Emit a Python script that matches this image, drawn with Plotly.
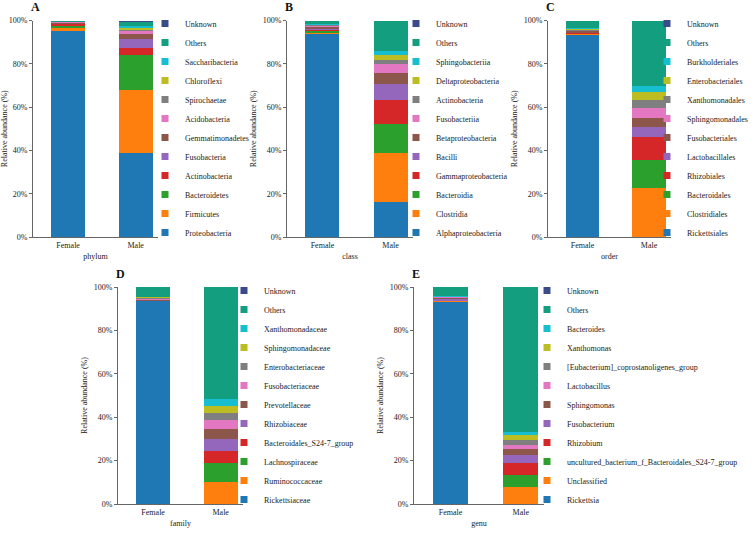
import plotly.graph_objects as go

groups = ["Female", "Male"]

phylum_names = ["Proteobacteria", "Firmicutes", "Bacteroidetes", "Actinobacteria", "Fusobacteria",
                "Gemmatimonadetes", "Acidobacteria", "Spirochaetae", "Chloroflexi", "Saccharibacteria",
                "Others", "Unknown"]
phylum_female = [95.7, 0.9, 1.0, 1.3, 0.1, 0.5, 0.1, 0.1, 0.05, 0.05, 0.2, 0.0]
phylum_male = [39.1, 28.9, 16.2, 3.3, 4.0, 2.3, 1.6, 0.8, 0.8, 0.6, 2.3, 0.1]

class_names = ["Alphaproteobacteria", "Clostridia", "Bacteroidia", "Gammaproteobacteria", "Bacilli",
               "Betaproteobacteria", "Fusobacteriia", "Actinobacteria", "Deltaproteobacteria",
               "Sphingobacteriia", "Others", "Unknown"]
class_female = [94.0, 0.4, 1.0, 0.8, 0.4, 0.8, 0.3, 0.5, 0.3, 0.2, 1.3, 0.0]
class_male = [16.2, 22.8, 13.3, 11.1, 7.6, 5.2, 3.9, 1.8, 2.2, 2.2, 13.7, 0.0]

order_names = ["Rickettsiales", "Clostridiales", "Bacteroidales", "Rhizobiales", "Lactobacillales",
               "Fusobacteriales", "Sphingomonadales", "Xanthomonadales", "Enterobacteriales",
               "Burkholderiales", "Others", "Unknown"]
order_female = [93.7, 0.3, 0.3, 0.2, 0.2, 0.9, 0.2, 0.3, 0.6, 0.1, 3.2, 0.0]
order_male = [0.0, 22.7, 13.3, 10.6, 4.3, 4.2, 4.6, 3.9, 3.4, 2.8, 30.2, 0.0]

family_names = ["Rickettsiaceae", "Ruminococcaceae", "Lachnospiraceae", "Bacteroidales_S24-7_group",
                "Rhizobiaceae", "Prevotellaceae", "Fusobacteriaceae", "Enterobacteriaceae",
                "Sphingomonadaceae", "Xanthomonadaceae", "Others", "Unknown"]
family_female = [93.6, 0.05, 0.1, 0.05, 0.2, 0.1, 0.8, 0.4, 0.1, 0.1, 4.5, 0.0]
family_male = [0.0, 10.3, 8.5, 5.7, 5.5, 4.6, 4.1, 3.4, 3.1, 3.0, 51.8, 0.0]

genus_names = ["Rickettsia", "Unclassified", "uncultured_bacterium_f_Bacteroidales_S24-7_group",
               "Rhizobium", "Fusobacterium", "Sphingomonas", "Lactobacillus",
               "[Eubacterium]_coprostanoligenes_group", "Xanthomonas", "Bacteroides", "Others", "Unknown"]
genus_female = [93.3, 0.3, 0.1, 0.2, 0.6, 0.8, 0.1, 0.1, 0.1, 0.1, 4.3, 0.0]
genus_male = [0.0, 7.9, 5.3, 5.7, 3.5, 2.8, 2.2, 2.3, 2.0, 1.6, 66.7, 0.0]

panel_letters = ["A", "B", "C", "D", "E"]
rank_titles = ["phylum", "class", "order", "family", "genu"]
y_ticks = [0, 20, 40, 60, 80, 100]
y_tick_labels = ["0%", "20%", "40%", "60%", "80%", "100%"]

colors = ["#1f77b4", "#ff7f0e", "#2ca02c", "#d62728", "#9467bd", "#8c564b",
          "#e377c2", "#7f7f7f", "#bcbd22", "#17becf", "#139e80", "#3a4b8c"]

panels = [
    (phylum_names, phylum_female, phylum_male),
    (class_names, class_female, class_male),
    (order_names, order_female, order_male),
    (family_names, family_female, family_male),
    (genus_names, genus_female, genus_male),
]

W, H = 755, 533
# plot area pixel boxes: (left, right, top, bottom)
boxes = [(33, 158, 20.5, 237), (287, 413, 20.5, 237), (548, 671, 20.5, 237),
         (118, 243, 287, 504), (414, 544, 287, 504)]
legend_text_x = [183, 434, 685, 262, 565]
legend_top_y = [24, 24, 24, 291, 291]

FONT = "Liberation Serif"
fig = go.Figure()
layout = dict(barmode="stack", width=W, height=H,
              margin=dict(l=0, r=0, t=0, b=0, autoexpand=False),
              paper_bgcolor="white", plot_bgcolor="white", bargap=0,
              font=dict(family=FONT, size=8, color="#222"), annotations=[])

for i, (names, fem, mal) in enumerate(panels):
    k = i + 1
    xa = "x" if k == 1 else f"x{k}"
    ya = "y" if k == 1 else f"y{k}"
    lg = "legend" if k == 1 else f"legend{k}"
    for j, nm in enumerate(names):
        fig.add_trace(go.Bar(x=groups, y=[fem[j], mal[j]], name=nm, marker_color=colors[j],
                             marker_line_width=0, width=0.5, xaxis=xa, yaxis=ya,
                             showlegend=False, legend=lg))
        fig.add_trace(go.Scatter(x=[None], y=[None], mode="markers", name=nm,
                                 marker=dict(symbol="square", size=7, color=colors[j]),
                                 xaxis=xa, yaxis=ya, legend=lg, showlegend=True))
    l, r, t, b = boxes[i]
    xkey = "xaxis" if k == 1 else f"xaxis{k}"
    ykey = "yaxis" if k == 1 else f"yaxis{k}"
    layout[xkey] = dict(domain=[l / W, r / W], anchor=ya, type="category",
                        categoryorder="array", categoryarray=groups,
                        range=[-0.52, 1.33], showline=True, linecolor="#666", linewidth=1,
                        ticks="", showgrid=False, zeroline=False,
                        tickfont=dict(family=FONT, size=8, color="#222"),
                        title=dict(text=rank_titles[i], font=dict(family=FONT, size=8, color="#222"),
                                   standoff=4))
    layout[ykey] = dict(domain=[1 - b / H, 1 - t / H], anchor=xa, range=[0, 100],
                        tickmode="array", tickvals=y_ticks, ticktext=y_tick_labels,
                        showline=True, linecolor="#666",
                        linewidth=1, ticks="outside", ticklen=3, tickcolor="#666",
                        showgrid=False, zeroline=False,
                        tickfont=dict(family=FONT, size=8, color="#222"),
                        title=dict(text="Relative abundance (%)",
                                   font=dict(family=FONT, size=8, color="#222"), standoff=4))
    layout[lg] = dict(x=(legend_text_x[i] - 38) / W, xanchor="left",
                      y=1 - (legend_top_y[i] - 15) / H, yanchor="top",
                      traceorder="reversed", bgcolor="rgba(0,0,0,0)",
                      font=dict(family=FONT, size=8, color="#222"), itemsizing="trace")
    layout["annotations"].append(dict(text="<b>" + panel_letters[i] + "</b>", x=(l + 2) / W,
                                      y=1 - (t - 13) / H, xref="paper", yref="paper",
                                      xanchor="center", yanchor="middle", showarrow=False,
                                      font=dict(family=FONT, size=12, color="#111")))

fig.update_layout(**layout)
fig.write_html("out.html", config={"displayModeBar": False},
               post_script="document.body.style.margin='0';document.body.style.overflow='hidden';")
